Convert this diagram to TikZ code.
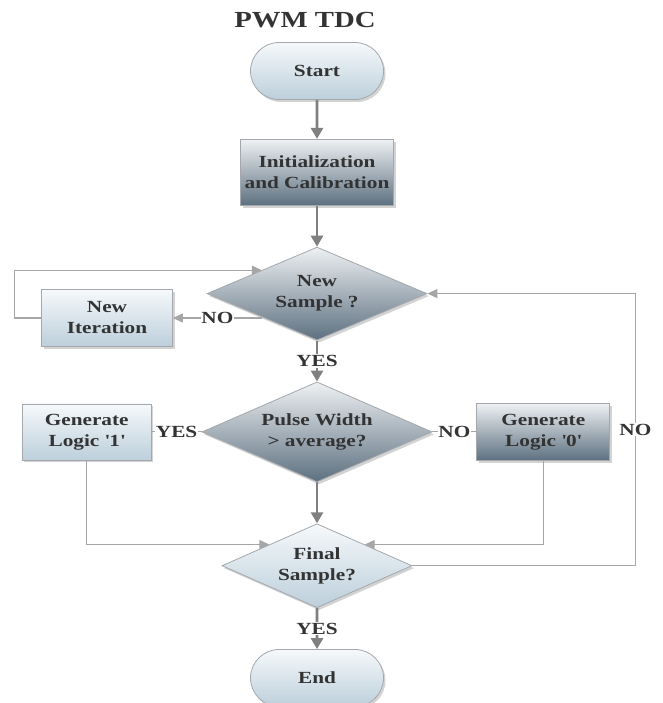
\documentclass[tikz,border=0pt]{standalone}
\usepackage{fontspec}
\setmainfont{Liberation Serif}[FakeStretch=1.25]
\usetikzlibrary{shapes, arrows.meta, positioning, shadows}
\usepackage{xcolor}
\definecolor{cText}{HTML}{333333}
\definecolor{cBorder}{HTML}{A4A8AC}
\definecolor{cLightTop}{HTML}{F6F9FB}
\definecolor{cLightBot}{HTML}{BCCFDB}
\definecolor{cDarkTop}{HTML}{EEF1F3}
\definecolor{cDarkBot}{HTML}{5D7080}
\definecolor{cLine}{HTML}{808080}
\definecolor{cThin}{HTML}{A6A6A6}
\tikzset{
  title/.style = {
    font=\bfseries\fontsize{23}{27}\selectfont,
    text=cText
  },
  base/.style = {
    draw=cBorder,
    line width=0.8pt,
    text=cText,
    font=\bfseries\fontsize{17}{21}\selectfont,
    align=center,
    inner sep=0pt,
    drop shadow={opacity=0.35, shadow xshift=2pt, shadow yshift=-2.5pt}
  },
  light/.style = {
    top color=cLightTop,
    bottom color=cLightBot
  },
  dark/.style = {
    top color=cDarkTop,
    bottom color=cDarkBot
  },
  term/.style = {
    base, light,
    rounded rectangle,
    minimum width=133pt,
    minimum height=57pt
  },
  block/.style = {
    base,
    rectangle,
    minimum width=131pt,
    minimum height=57pt
  },
  decision/.style = {
    base,
    diamond,
    aspect=2.3
  },
  flow/.style = {
    draw=cLine,
    line width=2.8pt,
    -{Triangle[length=11pt,width=12pt]}
  },
  link/.style = {
    draw=cThin,
    line width=1.1pt
  },
  arr/.style = {
    -{Triangle[length=10pt,width=9pt]}
  },
  lbl/.style = {
    fill=white,
    text=cText,
    font=\bfseries\fontsize{17}{21}\selectfont,
    inner sep=0.8pt
  },
}

\begin{document}
\begin{tikzpicture}[x=1pt, y=-1pt, node distance=41pt]
    \useasboundingbox (0,0) rectangle (662,703);
    \node [title] (heading) at (305,20) {PWM TDC};
    \node [term] (start) at (317,71) {Start};
    \node [block, dark, minimum width=153pt, minimum height=66pt, below=39pt of start] (init) {Initialization\\and Calibration};
    \node [decision, dark, minimum width=220pt, minimum height=93pt, below=of init] (newsample) {New\\Sample ?};
    \node [block, light] (newiter) at (107,318) {New\\Iteration};
    \node [decision, dark, minimum width=230pt, minimum height=100pt, below=of newsample] (pulse) {Pulse Width\\> average?};
    \node [block, light, minimum width=129pt, minimum height=56pt, left=50pt of pulse] (gen1) {Generate\\Logic \textquotesingle1\textquotesingle};
    \node [block, dark, minimum width=133pt, right=44pt of pulse] (gen0) {Generate\\Logic \textquotesingle0\textquotesingle};
    \node [decision, light, aspect=2.26, minimum width=190pt, minimum height=84pt, below=of pulse] (final) {Final\\Sample?};
    \node [term, below=of final] (stop) {End};
    \path [flow] (start) -- (init);
    \path [flow] (init) -- (newsample);
    \path [flow] (newsample) -- node [lbl] {YES} (pulse);
    \path [flow] (pulse) -- (final);
    \path [flow] (final) -- node [lbl] {YES} (stop);
    \path [link, arr] (newiter.east -| newsample.south west) -- node [lbl] {NO} (newiter.east);
    \path [link, arr] (newiter.west) -- ++(-27,0) |- (newsample.north west);
    \path [link] (pulse.west) -- node [lbl] {YES} (gen1.east);
    \path [link] (pulse.east) -- node [lbl] {NO} (gen0.west);
    \path [link, arr] (gen1.south) |- (final.north west);
    \path [link, arr] (gen0.south) |- (final.north east);
    \path [link, arr] (final.east) -- ++(223,0) |- node [lbl, pos=0.25] {NO} (newsample.east);
  \end{tikzpicture}
\end{document}
